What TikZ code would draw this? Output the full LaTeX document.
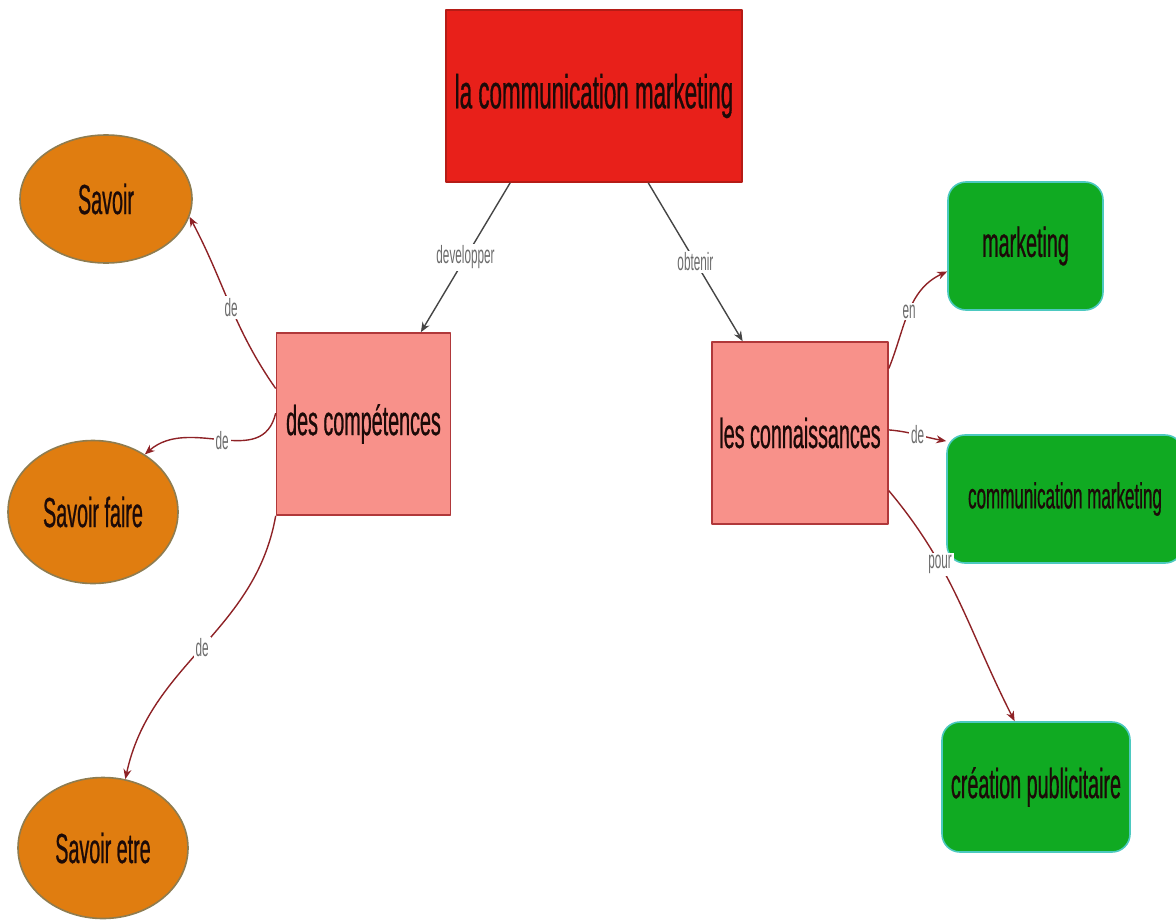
\documentclass[tikz,border=0pt]{standalone}
\usepackage{fontspec}
\newfontfamily\etroit[FakeStretch=0.47,FakeBold=0.6]{Liberation Sans}
\newfontfamily\etroitfin[FakeStretch=0.47]{Liberation Sans}
\usetikzlibrary{arrows.meta,shapes.geometric}
\definecolor{rouge}{HTML}{E8201A}
\definecolor{bordrouge}{HTML}{B51C16}
\definecolor{saumon}{HTML}{F8918A}
\definecolor{bordsaumon}{HTML}{B0383A}
\definecolor{orange}{HTML}{E07D10}
\definecolor{bordorange}{HTML}{8E7C50}
\definecolor{vert}{HTML}{10AA22}
\definecolor{bordvert}{HTML}{4CC9C0}
\definecolor{encre}{HTML}{1C0A08}
\definecolor{lien}{HTML}{8E2226}
\definecolor{gris}{HTML}{454545}
\definecolor{etiq}{HTML}{6C6C6C}

\begin{document}
\begin{tikzpicture}[
  x=0.5pt, y=0.5pt,
  line join=round,
  % concept principal et sous-concepts
  titre/.style={draw=bordrouge, line width=0.8pt, fill=rouge, text=encre,
    minimum width=148pt, minimum height=86pt,
    font=\etroit\fontsize{23.8}{26}\selectfont},
  boite/.style={draw=bordsaumon, line width=0.8pt, fill=saumon, text=encre,
    minimum width=87pt, minimum height=91pt,
    font=\etroit\fontsize{21}{24}\selectfont},
  bulle/.style={ellipse, draw=bordorange, line width=0.8pt, fill=orange, text=encre,
    inner sep=0pt, font=\etroit\fontsize{21}{24}\selectfont},
  pave/.style={draw=bordvert, line width=0.8pt, fill=vert, text=encre,
    rounded corners=9pt, minimum height=64pt,
    font=\etroit\fontsize{21}{24}\selectfont},
  % liens et leurs etiquettes
  haut/.style={draw=gris, line width=0.7pt, -{Stealth[length=5pt,width=4pt]}},
  rel/.style={draw=lien, line width=0.7pt, -{Stealth[length=5pt,width=4pt]}},
  lab/.style={fill=white, text=etiq, inner sep=1pt,
    font=\etroitfin\fontsize{12.5}{14}\selectfont},
]
\useasboundingbox (0,0) rectangle (1176,-920);

% --- Noeuds
\node[titre] (com) at (594,-96) {la communication marketing};
\node[boite] (comp) at (363.5,-424) {des compétences};
\node[boite, minimum width=88pt] (conn) at (800,-433) {les connaissances};

\node[bulle, minimum width=86pt, minimum height=64pt] (sav) at (106,-199) {Savoir};
\node[bulle, minimum width=85pt, minimum height=71.5pt] (savf) at (93,-512) {Savoir faire};
\node[bulle, minimum width=85pt, minimum height=70.5pt] (save) at (103,-848) {Savoir etre};

\node[pave, minimum width=77.5pt] (mkt) at (1025.5,-246) {marketing};
\node[pave, minimum width=118pt, font=\etroit\fontsize{18.1}{21}\selectfont]
  (cmkt) at (1065,-499) {communication marketing};
\node[pave, minimum width=94pt, minimum height=65pt] (pub) at (1036,-787) {création publicitaire};

% --- Liens depuis le concept principal
\draw[haut] (com.-134) -- node[lab] {developper} (comp.58);
\draw[haut] (com.-58) -- node[lab] {obtenir} (conn.122);

% --- Liens des compétences
\draw[rel] (comp.158) to[out=125, in=-62] node[lab, pos=0.48] {de} (sav.-12);
\draw[rel] (comp.173) .. controls (262,-470) and (190,-415) .. node[lab, pos=0.5] {de} (savf.48);
\draw[rel] (comp.south west) to[out=-100, in=78] node[lab, pos=0.5] {de} (save.72);

% --- Liens des connaissances
\draw[rel] (conn.36) to[out=68, in=205] node[lab, pos=0.5] {en} (mkt.198);
\draw[rel] (conn.2) to[out=-5, in=170] node[lab, pos=0.5] {de} (cmkt.154);
\draw[rel] (conn.-33) to[out=-50, in=117] node[lab, pos=0.33] {pour} (pub.108);
\end{tikzpicture}
\end{document}
